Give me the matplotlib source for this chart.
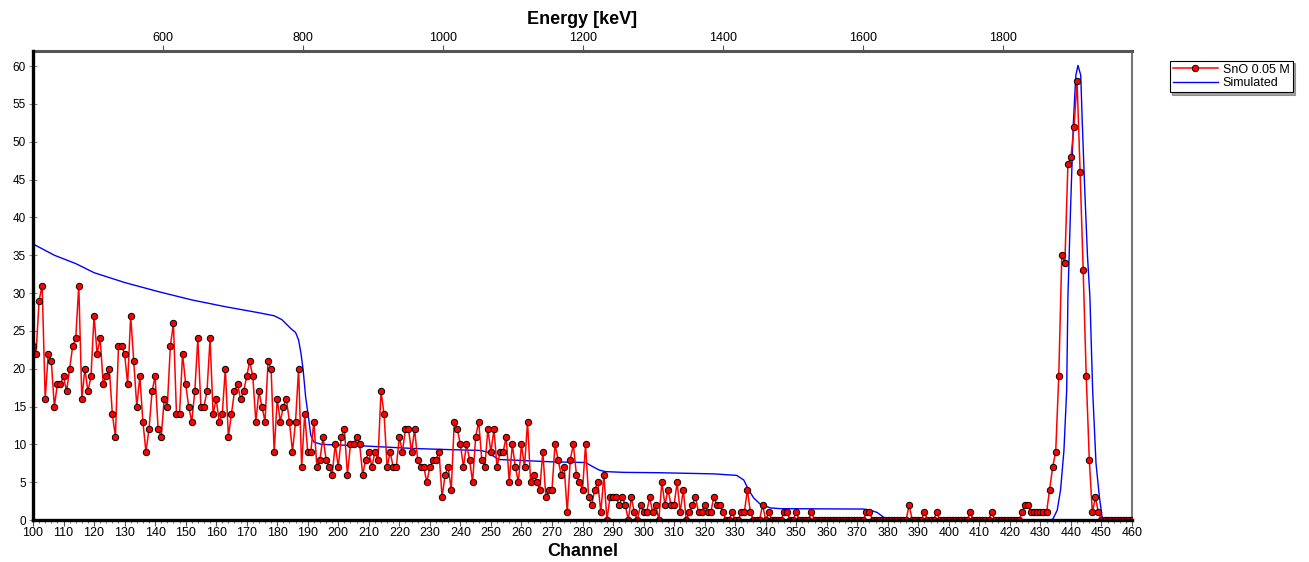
import matplotlib
matplotlib.use("Agg")
import matplotlib.pyplot as plt
import numpy as np
from matplotlib.ticker import MultipleLocator, FixedLocator

plt.rcParams['font.family'] = ['Liberation Sans', 'DejaVu Sans']

# ---- measured spectrum (counts per channel), channels 100..460 ----
channel_start = 100
counts = [
    23, 22, 29, 31, 16, 22, 21, 15, 18, 18,   # 100-109
    19, 17, 20, 23, 24, 31, 16, 20, 17, 19,   # 110-119
    27, 22, 24, 18, 19, 20, 14, 11, 23, 23,   # 120-129
    22, 18, 27, 21, 15, 19, 13, 9, 12, 17,    # 130-139
    19, 12, 11, 16, 15, 23, 26, 14, 14, 22,   # 140-149
    18, 15, 13, 17, 24, 15, 15, 17, 24, 14,   # 150-159
    16, 13, 14, 20, 11, 14, 17, 18, 16, 17,   # 160-169
    19, 21, 19, 13, 17, 15, 13, 21, 20, 9,    # 170-179
    16, 13, 15, 16, 13, 9, 13, 20, 7, 14,     # 180-189
    9, 9, 13, 7, 8, 11, 8, 7, 6, 10,          # 190-199
    7, 11, 12, 6, 10, 10, 11, 10, 6, 8,       # 200-209
    9, 7, 9, 8, 17, 14, 7, 9, 7, 7,           # 210-219
    11, 9, 12, 12, 9, 12, 8, 7, 7, 5,         # 220-229
    7, 8, 8, 9, 3, 6, 7, 4, 13, 12,           # 230-239
    10, 7, 10, 8, 5, 11, 13, 8, 7, 12,        # 240-249
    9, 12, 7, 9, 9, 11, 5, 10, 7, 5,          # 250-259
    10, 7, 13, 5, 6, 5, 4, 9, 3, 4,           # 260-269
    4, 10, 8, 6, 7, 1, 8, 10, 6, 5,           # 270-279
    4, 10, 3, 2, 4, 5, 1, 6, 0, 3,            # 280-289
    3, 3, 2, 3, 2, 0, 3, 1, 0, 2,             # 290-299
    1, 1, 3, 1, 2, 0, 5, 2, 4, 2,             # 300-309
    2, 5, 1, 4, 0, 1, 2, 3, 1, 1,             # 310-319
    2, 1, 1, 3, 2, 2, 1, 0, 0, 1,             # 320-329
    0, 0, 1, 1, 4, 1, 0, 0, 0, 2,             # 330-339
    0, 1, 0, 0, 0, 0, 1, 1, 0, 0,             # 340-349
    1, 0, 0, 0, 0, 1, 0, 0, 0, 0,             # 350-359
    0, 0, 0, 0, 0, 0, 0, 0, 0, 0,             # 360-369
    0, 0, 0, 1, 1, 0, 0, 0, 0, 0,             # 370-379
    0, 0, 0, 0, 0, 0, 0, 2, 0, 0,             # 380-389
    0, 0, 1, 0, 0, 0, 1, 0, 0, 0,             # 390-399
    0, 0, 0, 0, 0, 0, 0, 1, 0, 0,             # 400-409
    0, 0, 0, 0, 1, 0, 0, 0, 0, 0,             # 410-419
    0, 0, 0, 0, 1, 2, 2, 1, 1, 1,             # 420-429
    1, 1, 1, 4, 7, 9, 19, 35, 34, 47,         # 430-439
    48, 52, 58, 46, 33, 19, 8, 1, 3, 1,       # 440-449
    0, 0, 0, 0, 0, 0, 0, 0, 0, 0, 0,          # 450-460
]
channels = np.arange(channel_start, channel_start + len(counts))

# ---- simulated curve, read point by point ----
sim_channel = [100, 107, 114, 120, 130, 141, 152, 163, 174, 179, 181.5, 184.5,
               186, 187, 187.8, 188.5, 189.3, 190.2, 191, 192, 194.5, 208, 225,
               237, 246.5, 248.7, 250.3, 252.5, 258.5, 269.5, 281, 283.6, 285.5,
               287.5, 293.5, 305.5, 323, 330.5, 332.8, 334.4, 336.1, 338.2,
               341.5, 345, 372, 374.3, 376.5, 378.2, 379.2, 380, 433.9, 435.5,
               436.6, 437.7, 438.6, 439.0, 439.9, 440.8, 441.6, 442.3, 443.2,
               443.7, 444.5, 445.4, 446.2, 447.1, 448.2, 449.3, 450.2, 451, 460]
sim_value = [36.5, 35.0, 33.9, 32.7, 31.4, 30.2, 29.1, 28.2, 27.4, 27.0, 26.5, 25.3,
             24.8, 23.8, 22.0, 19.8, 16.3, 13.7, 11.2, 10.3, 10.0, 9.8, 9.45,
             9.3, 9.2, 9.0, 8.6, 8.0, 7.9, 7.7, 7.6, 7.0, 6.6,
             6.4, 6.3, 6.25, 6.1, 5.9, 5.3, 4.0, 2.9, 2.1,
             1.6, 1.5, 1.45, 1.3, 1.0, 0.5, 0.2, 0.0, 0.0, 1.3,
             4.0, 9.2, 17.2, 29.5, 41.6, 52.6, 58.8, 60.1, 58.8,
             52.6, 43.8, 35.0, 29.5, 17.2, 7.5, 3.1, 0.4, 0.0, 0.0]

energy_ticks = [600, 800, 1000, 1200, 1400, 1600, 1800]
y_ticks = list(range(0, 61, 5))
x_ticks = list(range(100, 461, 10))

# energy calibration
kev_per_channel = 4.362
kev_offset = -21.6

fig = plt.figure(figsize=(13.09, 5.62), dpi=100)
ax = fig.add_axes([0.0252, 0.0747, 0.8396, 0.8345])

ax.plot(sim_channel, sim_value, color='#0000ff', lw=1.0, label='Simulated', zorder=2)
ax.plot(channels, counts, color='#ff0000', lw=1.1, marker='o', markersize=4.6,
        markerfacecolor='#ff0000', markeredgecolor='black', markeredgewidth=0.7,
        label='SnO 0.05 M', zorder=3)

ax.set_xlim(100, 460)
ax.set_ylim(0, 62)

ax.xaxis.set_major_locator(FixedLocator(x_ticks))
ax.xaxis.set_minor_locator(MultipleLocator(2))
ax.yaxis.set_major_locator(FixedLocator(y_ticks))
ax.tick_params(axis='x', which='major', direction='out', length=4, width=0.8,
               color='#555555', labelsize=9, pad=1)
ax.tick_params(axis='x', which='minor', direction='out', length=2, width=0.6,
               color='#555555')
ax.tick_params(axis='y', which='major', direction='inout', length=6, width=0.8,
               color='#888888', labelsize=8.5, pad=2)

for side in ['left', 'bottom']:
    ax.spines[side].set_linewidth(2.4)
    ax.spines[side].set_color('black')
    ax.spines[side].set_zorder(4)
ax.spines['top'].set_linewidth(2.2)
ax.spines['top'].set_color('#555555')
ax.spines['right'].set_linewidth(1.5)
ax.spines['right'].set_color('#777777')

ax.set_xlabel('Channel', fontsize=13, fontweight='bold', labelpad=3)

sec = ax.secondary_xaxis('top',
                         functions=(lambda c: kev_per_channel * np.asarray(c) + kev_offset,
                                    lambda e: (np.asarray(e) - kev_offset) / kev_per_channel))
sec.xaxis.set_major_locator(FixedLocator(energy_ticks))
sec.tick_params(axis='x', direction='out', length=4, width=0.8, color='#555555',
                labelsize=9, pad=1)
sec.set_xlabel('Energy [keV]', fontsize=13, fontweight='bold', labelpad=6)

handles, labels = ax.get_legend_handles_labels()
leg = fig.legend(handles[::-1], labels[::-1], loc='upper left',
                 bbox_to_anchor=(0.8935, 0.892), bbox_transform=fig.transFigure,
                 fontsize=9, frameon=True, fancybox=False, shadow=True,
                 handlelength=3.6, handletextpad=0.4, borderpad=0.25,
                 labelspacing=0.1, borderaxespad=0)
leg.get_frame().set_edgecolor('black')
leg.get_frame().set_linewidth(0.8)

fig.savefig('out.png', dpi=100)
